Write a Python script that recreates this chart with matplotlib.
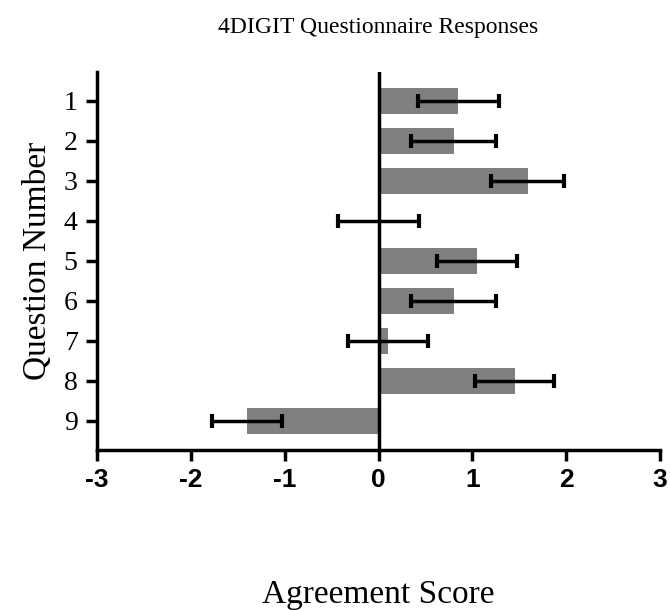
import numpy as np
import matplotlib.pyplot as plt

questions = [1, 2, 3, 4, 5, 6, 7, 8, 9]
scores = [0.85, 0.80, 1.59, 0.0, 1.05, 0.80, 0.10, 1.45, -1.40]
errors = [0.43, 0.45, 0.39, 0.43, 0.43, 0.45, 0.43, 0.42, 0.37]
xticks = [-3, -2, -1, 0, 1, 2, 3]

serif = "Liberation Serif"

fig = plt.figure(figsize=(6.7, 6.1), dpi=100)
ax = fig.add_axes([0.1448, 0.2623, 0.8403, 0.6197])

ax.barh(questions, scores, height=0.65, color="#808080", zorder=2)
ax.errorbar(scores, questions, xerr=errors, fmt="none", ecolor="black",
            elinewidth=2.5, capsize=5, capthick=3, zorder=3)
ax.axvline(0, color="black", lw=2.5, zorder=4)

ax.set_xlim(-3, 3)
ax.set_ylim(9.725, 0.275)
ax.set_xticks(xticks)
ax.set_xticklabels([str(t) for t in xticks], fontfamily="Liberation Sans",
                   fontweight="bold", fontsize=19)
ax.set_yticks(questions)
ax.set_yticklabels([str(q) for q in questions], fontfamily=serif, fontsize=20)

for s in ["top", "right"]:
    ax.spines[s].set_visible(False)
for s in ["left", "bottom"]:
    ax.spines[s].set_linewidth(2.5)
ax.tick_params(axis="both", width=2.5, length=8, direction="out")
ax.tick_params(axis="x", pad=5)
ax.tick_params(axis="y", pad=6)

ax.set_ylabel("Question Number", fontfamily=serif, fontsize=24, labelpad=8)

fig.text(0.565, 0.955, "4DIGIT Questionnaire Responses", ha="center",
         va="center", fontfamily=serif, fontsize=17)
fig.text(0.565, 0.025, "Agreement Score", ha="center", va="center",
         fontfamily=serif, fontsize=24)

fig.savefig("out.png", dpi=100)
